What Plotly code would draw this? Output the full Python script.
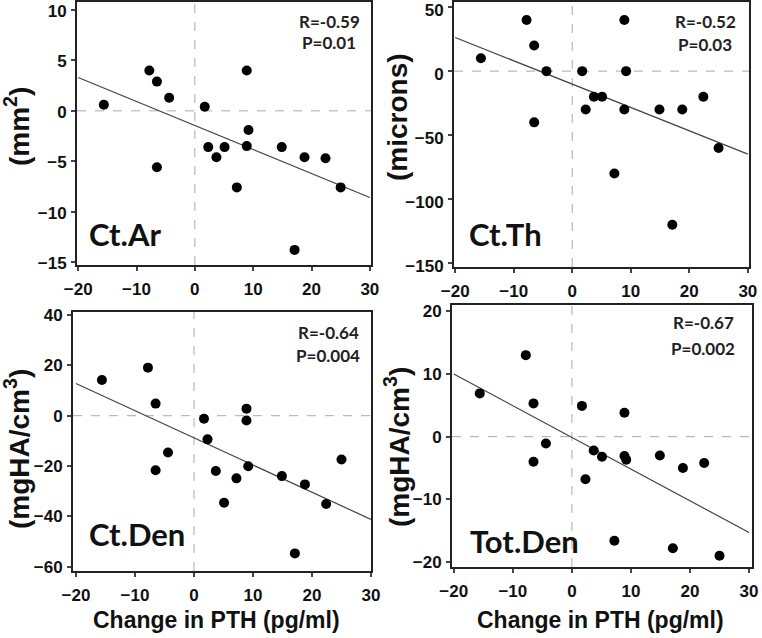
import plotly.graph_objects as go

W, H = 762, 638

# ---- data ----
pth_change = [-15.6, -7.8, -6.5, -6.5, -4.4, 1.7, 2.3, 3.7, 5.1, 7.2, 8.9, 8.9, 9.2, 14.9, 17.1, 18.8, 22.4, 25.0]
ct_ar = [0.6, 4.0, 2.9, -5.6, 1.3, 0.4, -3.6, -4.6, -3.6, -7.6, 4.0, -3.5, -1.9, -3.6, -13.8, -4.6, -4.7, -7.6]
ct_th = [10, 40, 20, -40, 0, 0, -30, -20, -20, -80, 40, -30, 0, -30, -120, -30, -20, -60]
ct_den = [14.2, 19.1, 4.8, -21.7, -14.6, -1.2, -9.4, -22.0, -34.6, -24.9, 2.8, -1.9, -20.1, -24.0, -54.7, -27.3, -35.1, -17.4]
tot_den = [6.9, 13.0, 5.3, -4.0, -1.1, 4.9, -6.8, -2.2, -3.2, -16.6, 3.8, -3.1, -3.7, -3.0, -17.8, -5.0, -4.2, -19.0]

fit_x = [-20, 30]
fit_ct_ar = [3.3, -8.6]
fit_ct_th = [26.3, -64.8]
fit_ct_den = [12.8, -41.2]
fit_tot_den = [10.0, -15.3]

panel_names = ["Ct.Ar", "Ct.Th", "Ct.Den", "Tot.Den"]
units = ["(mm<sup>2</sup>)", "(microns)", "(mgHA/cm<sup>3</sup>)", "(mgHA/cm<sup>3</sup>)"]
r_labels = ["R=-0.59", "R=-0.52", "R=-0.64", "R=-0.67"]
p_labels = ["P=0.01", "P=0.03", "P=0.004", "P=0.002"]
x_title = "Change in PTH (pg/ml)"
x_ticks = [-20, -10, 0, 10, 20, 30]
y_ticks = [[-15, -10, -5, 0, 5, 10], [-150, -100, -50, 0, 50], [-60, -40, -20, 0, 20, 40], [-20, -10, 0, 10, 20]]

series = [ct_ar, ct_th, ct_den, tot_den]
fits = [fit_ct_ar, fit_ct_th, fit_ct_den, fit_tot_den]

# ---- layout geometry (pixels) ----
frames = [(77, 371, 2, 265), (454, 749, 2, 267), (73, 371, 312, 571), (452, 752, 305, 567)]
x_ranges = [[-20.2, 30.2], [-20.2, 30.2], [-20.5, 30.0], [-20.3, 30.5]]
y_ranges = [[-15.3, 10.8], [-153, 54], [-61.7, 41.2], [-20.8, 21.0]]
y_label_shift = [1, 3, 0, 0]


def px(x):
    return x / W


def py(y):
    return 1 - y / H


fig = go.Figure()
annotations = []
layout = dict(
    template="none",
    width=W, height=H, margin=dict(l=0, r=0, t=0, b=0, pad=0),
    paper_bgcolor="white", plot_bgcolor="white", showlegend=False,
)
tickfont = dict(family="Liberation Sans", size=17, color="#111", weight="bold")

for i in range(4):
    k = "" if i == 0 else str(i + 1)
    xa, ya = "x" + k, "y" + k
    l, r, t, b = frames[i]
    fig.add_trace(go.Scatter(x=fit_x, y=fits[i], mode="lines", xaxis=xa, yaxis=ya,
                             line=dict(color="#444", width=1.2), hoverinfo="skip"))
    fig.add_trace(go.Scatter(x=pth_change, y=series[i], mode="markers", xaxis=xa, yaxis=ya,
                             marker=dict(color="black", size=10)))
    common = dict(showgrid=False, showline=True, linecolor="#222", linewidth=2, mirror=True,
                  ticks="outside", ticklen=4, tickwidth=1.5, tickcolor="#444",
                  tickfont=tickfont, zeroline=False, automargin=False,
                  ticklabeloverflow="allow")
    layout["xaxis" + k] = dict(common, domain=[px(l), px(r)], range=x_ranges[i], anchor=ya,
                               tickvals=x_ticks, ticklabelstandoff=4)
    layout["yaxis" + k] = dict(common, domain=[py(b), py(t)], range=y_ranges[i], anchor=xa,
                               tickvals=y_ticks[i], ticklabelstandoff=1,
                               ticklabelshift=y_label_shift[i])
    # dashed zero lines
    fig.add_shape(type="line", xref=xa, yref=ya + " domain", x0=0, x1=0, y0=0, y1=1,
                  line=dict(color="#aaa", width=1, dash="dash"), layer="below")
    fig.add_shape(type="line", xref=xa + " domain", yref=ya, x0=0, x1=1, y0=0, y1=0,
                  line=dict(color="#aaa", width=1, dash="dash"), layer="below")

# stat annotations
stat_pos = [(329, 21, 43), (705, 21, 45), (328, 332, 355), (703, 322, 348)]
for i in range(4):
    cx, ry, pyy = stat_pos[i]
    for txt, yy in ((r_labels[i], ry), (p_labels[i], pyy)):
        annotations.append(dict(x=px(cx), y=py(yy), xref="paper", yref="paper", text=txt,
                                showarrow=False, xanchor="center", yanchor="middle",
                                font=dict(family="Lato", size=17, color="#222", weight="bold")))

# panel names
name_pos = [(87, 234), (467, 234), (87, 534), (468, 541)]
for i in range(4):
    x0, y0 = name_pos[i]
    annotations.append(dict(x=px(x0), y=py(y0), xref="paper", yref="paper", text=panel_names[i],
                            showarrow=False, xanchor="left", yanchor="middle",
                            font=dict(family="Lato", size=31, color="#111", weight="bold")))

# y titles
ytitle_pos = [(17, 127), (397, 117), (17, 449), (397, 447)]
for i in range(4):
    x0, y0 = ytitle_pos[i]
    annotations.append(dict(x=px(x0), y=py(y0), xref="paper", yref="paper", text=units[i],
                            showarrow=False, textangle=-90, xanchor="center", yanchor="middle",
                            font=dict(family="Liberation Sans", size=28, color="#111", weight="bold")))

# x titles
for cx in (216, 600):
    annotations.append(dict(x=px(cx), y=py(620), xref="paper", yref="paper", text=x_title,
                            showarrow=False, xanchor="center", yanchor="middle",
                            font=dict(family="Liberation Sans", size=23, color="#111", weight="bold")))

layout["annotations"] = annotations
fig.update_layout(**layout)
fig.write_html("out.html", config={"displayModeBar": False},
               post_script="document.body.style.margin='0';document.body.style.overflow='hidden';")
